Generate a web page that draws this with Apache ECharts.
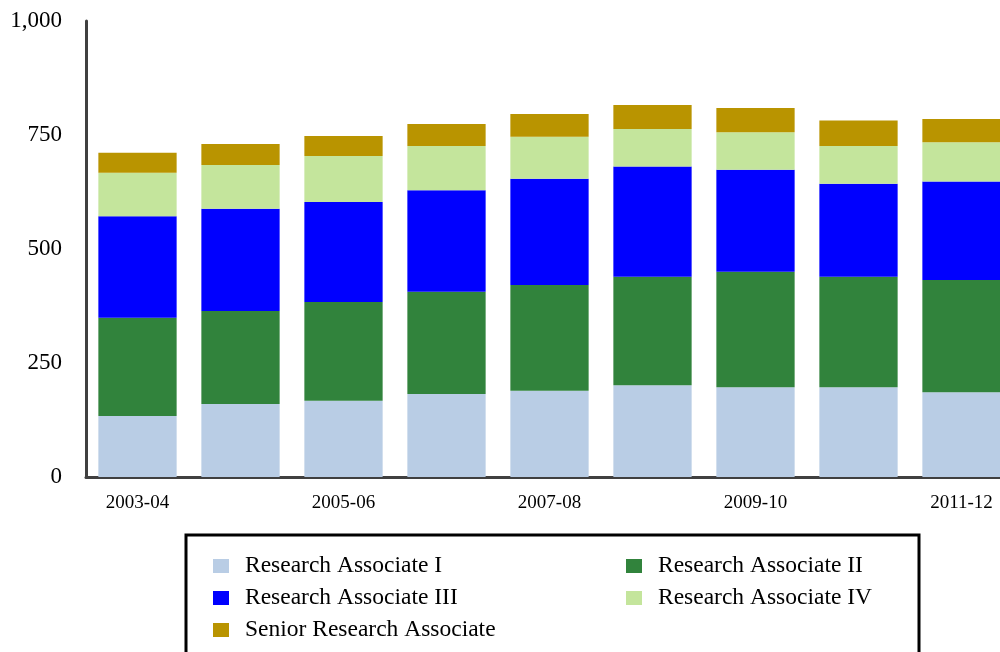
<!DOCTYPE html>
<html>
<head>
<meta charset="utf-8">
<script src="https://cdn.jsdelivr.net/npm/echarts@6/dist/echarts.min.js"></script>
<style>
html,body{margin:0;padding:0;background:#fff;overflow:hidden;width:1000px;height:652px;}
#chart{width:1013px;height:652px;}
</style>
</head>
<body>
<div id="chart"></div>
<script>
var categories = ['2003-04','2004-05','2005-06','2006-07','2007-08','2008-09','2009-10','2010-11','2011-12'];
var seriesNames = ['Research Associate I','Research Associate II','Research Associate III','Research Associate IV','Senior Research Associate'];
var ra1 = [134, 160, 167, 182, 189, 201, 197, 197, 186];
var ra2 = [215, 204, 217, 224, 232, 238, 253, 242, 246];
var ra3 = [223, 224, 219, 223, 233, 242, 224, 204, 216];
var ra4 = [95, 96, 101, 97, 92, 82, 82, 83, 86];
var sra = [44, 46, 44, 48, 50, 53, 53, 56, 51];
var yTicks = [0, 250, 500, 750, 1000];
var colors = ['#B9CDE5', '#31833C', '#0000FF', '#C4E59C', '#B99400'];

var font = '"Liberation Serif", "DejaVu Serif", serif';
var dataSets = [ra1, ra2, ra3, ra4, sra];

var chart = echarts.init(document.getElementById('chart'));
var series = seriesNames.map(function(n, i){
  return {
    name: n, type: 'bar', stack: 'total',
    data: dataSets[i],
    barCategoryGap: '24%',
    itemStyle: {color: colors[i]},
    emphasis: {disabled: true}
  };
});

var legendPos = [
  {left: 213, top: 554}, {left: 626, top: 554},
  {left: 213, top: 586}, {left: 626, top: 586},
  {left: 213, top: 618}
];
var legends = seriesNames.map(function(n, i){
  return {
    data: [n], left: legendPos[i].left, top: legendPos[i].top,
    padding: 0, itemWidth: 16, itemHeight: 14, icon: 'rect',
    selectedMode: false,
    textStyle: {fontFamily: font, fontSize: 23.5, color: '#000', lineHeight: 24, padding: [0,0,0,11]}
  };
});

chart.setOption({
  animation: false,
  color: colors,
  grid: {left: 86, top: 21, right: 0, bottom: 175, containLabel: false},
  legend: legends,
  xAxis: {
    type: 'category', data: categories,
    axisLine: {lineStyle: {color: '#404040', width: 3}},
    axisTick: {show: false},
    axisLabel: {interval: 1, fontFamily: font, fontSize: 19, color: '#000', margin: 17}
  },
  yAxis: {
    type: 'value', min: yTicks[0], max: yTicks[yTicks.length-1], interval: 250,
    axisLine: {show: true, lineStyle: {color: '#404040', width: 3}},
    axisTick: {show: false},
    splitLine: {show: false},
    axisLabel: {fontFamily: font, fontSize: 23, color: '#000', margin: 24,
      formatter: function(v){ return v.toLocaleString('en-US'); }}
  },
  graphic: [{
    type: 'rect', shape: {x: 186, y: 535, width: 733, height: 140},
    style: {fill: 'none', stroke: '#000', lineWidth: 3}
  }],
  series: series
});
</script>
</body>
</html>
